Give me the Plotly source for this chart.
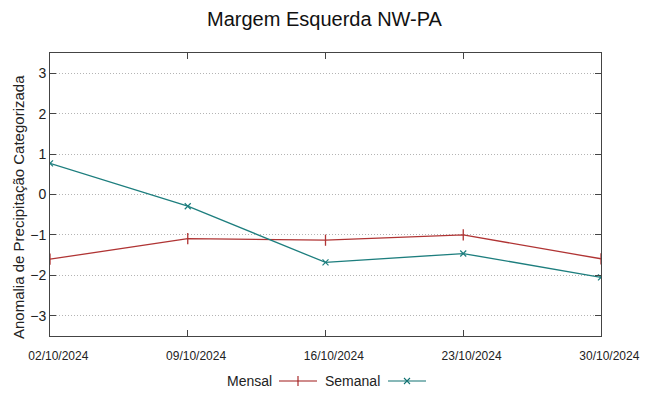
import plotly.graph_objects as go

dates = ["2024-10-02", "2024-10-09", "2024-10-16", "2024-10-23", "2024-10-30"]
tick_labels = ["02/10/2024", "09/10/2024", "16/10/2024", "23/10/2024", "30/10/2024"]
mensal = [-1.60, -1.09, -1.13, -1.00, -1.59]
semanal = [0.77, -0.29, -1.68, -1.46, -2.05]
y_ticks = [-3, -2, -1, 0, 1, 2, 3]
series_names = ["Mensal", "Semanal"]

red = "#b03434"
teal = "#1d7e7e"
red_leg = "#a01818"
teal_leg = "#117272"
font = "Liberation Sans, Arial, sans-serif"

W, H = 649, 396
ml, mr, mt, mb = 50, 48, 53, 6
pw = W - ml - mr
ph = H - mt - mb
plot_bottom = 336
leg_y = 381


def px_x(p):
    return (p - ml) / pw


def px_y(p):
    return (H - mb - p) / ph


# gnuplot draws these labels slightly right of the tick; pad on the left
pad = "\u00a0" * 5
shown_labels = [pad + t for t in tick_labels]

fig = go.Figure()
fig.add_trace(go.Scatter(x=dates, y=mensal, mode="lines+markers", name=series_names[0],
                         line=dict(color=red, width=1.3),
                         marker=dict(symbol="line-ns", size=8, line=dict(color=red, width=1.3))))
fig.add_trace(go.Scatter(x=dates, y=semanal, mode="lines+markers", name=series_names[1],
                         line=dict(color=teal, width=1.3),
                         marker=dict(symbol="x-thin", size=6, line=dict(color=teal, width=1.2))))

# legend samples (gnuplot style: text then sample) on hidden overlay axes
for ax, col, sym, sz in [("x2", red_leg, "line-ns", 8), ("x3", teal_leg, "x-thin", 6)]:
    fig.add_trace(go.Scatter(x=[0, 0.5, 1], y=[0, 0, 0], xaxis=ax, yaxis="y2", mode="lines",
                             line=dict(color=col, width=1.2), showlegend=False, hoverinfo="skip"))
    fig.add_trace(go.Scatter(x=[0.5], y=[0], xaxis=ax, yaxis="y2", mode="markers",
                             marker=dict(symbol=sym, size=sz, line=dict(color=col, width=1.1)),
                             showlegend=False, hoverinfo="skip"))

yc = px_y(leg_y)
fig.update_layout(
    width=W, height=H,
    margin=dict(l=ml, r=mr, t=mt, b=mb, autoexpand=False),
    paper_bgcolor="white", plot_bgcolor="white",
    showlegend=False,
    font=dict(family=font, color="#222222"),
    title=dict(text="Margem Esquerda NW-PA", x=0.5, xanchor="center",
               y=1 - 19 / H, yanchor="middle", font=dict(size=20, color="#111111", family=font)),
    xaxis=dict(type="date", range=[dates[0], dates[-1]], tickvals=dates, ticktext=shown_labels,
               showgrid=False, zeroline=False, showline=True, linecolor="#444444", linewidth=1,
               mirror="ticks", ticks="inside", ticklen=6, tickcolor="#444444",
               tickfont=dict(size=12, family=font, color="#222222"), anchor="y",
               automargin=False, ticklabelstandoff=9),
    yaxis=dict(domain=[px_y(plot_bottom), 1], range=[-3.5, 3.5], tickvals=y_ticks,
               showgrid=True, gridcolor="#b4b4b4",
               griddash="1px,2px", gridwidth=1, zeroline=False, showline=True, linecolor="#444444",
               linewidth=1, mirror="ticks", ticks="inside", ticklen=6, tickcolor="#444444",
               tickfont=dict(size=14, family=font, color="#222222"), automargin=False),
    xaxis2=dict(domain=[px_x(279), px_x(317)], range=[0, 1], visible=False, anchor="y2"),
    xaxis3=dict(domain=[px_x(388), px_x(426)], range=[0, 1], visible=False, anchor="y2"),
    yaxis2=dict(domain=[yc - 0.015, yc + 0.015], range=[-1, 1], visible=False, anchor="x2"),
)

# y-axis title (placed like gnuplot's ylabel)
fig.add_annotation(text="Anomalia de Precipitação Categorizada", xref="paper", yref="paper",
                   x=px_x(18), y=px_y(207), xanchor="center", yanchor="middle",
                   textangle=-90, showarrow=False,
                   font=dict(size=15, family=font, color="#222222"))

fig.add_annotation(text=series_names[0], xref="paper", yref="paper", x=px_x(274), y=yc,
                   xanchor="right", yanchor="middle", showarrow=False,
                   font=dict(size=14, family=font, color="#222222"))
fig.add_annotation(text=series_names[1], xref="paper", yref="paper", x=px_x(382), y=yc,
                   xanchor="right", yanchor="middle", showarrow=False,
                   font=dict(size=14, family=font, color="#222222"))

fig.write_html("out.html", config={"displayModeBar": False},
               post_script="document.body.style.margin='0';")
